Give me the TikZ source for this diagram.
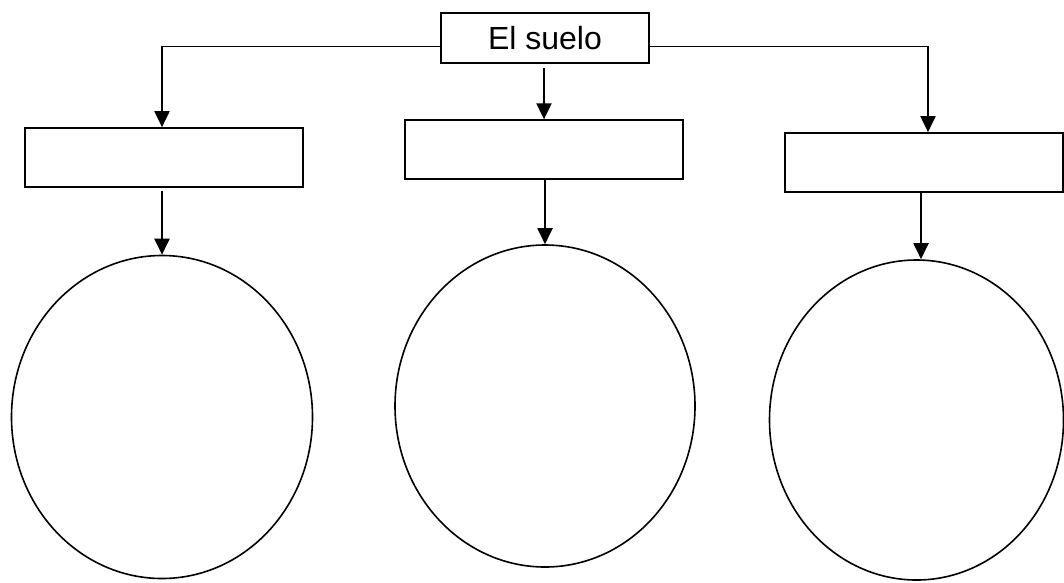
\documentclass[tikz,border=0pt]{standalone}
\usepackage{fontspec}
\setmainfont{Liberation Sans}
\usetikzlibrary{arrows.meta,shapes.geometric}

\begin{document}
\begin{tikzpicture}[x=1pt, y=-1pt,
        topbox/.style={draw, line width=1.7pt, minimum width=208pt, minimum height=50pt, inner sep=0pt, font=\fontsize{32}{38}\selectfont},
        emptybox/.style={draw, line width=1.7pt, minimum width=278pt, minimum height=59pt, inner sep=0pt},
        bubble/.style={draw, ellipse, line width=1.6pt, inner sep=0pt},
        link/.style={line width=2pt, -{Triangle[length=16pt, width=15pt]}}]
    % Page frame
    \useasboundingbox (0, 0) rectangle (1064, 582);

    % Topic box
    \node[topbox] (suelo) at (545, 37.7) {El suelo};

    % Empty boxes of the second row
    \node[emptybox] (left) at (164, 157.5) {};
    \node[emptybox] (mid) at (544, 149.7) {};
    \node[emptybox] (right) at (924, 162.5) {};

    % Empty circles at the bottom
    \node[bubble, minimum width=301pt, minimum height=323pt] (leftc) at (162, 417) {};
    \node[bubble, minimum width=300pt, minimum height=322pt] (midc) at (545, 406) {};
    \node[bubble, minimum width=294pt, minimum height=320pt] (rightc) at (916.5, 420) {};

    % Branches from the topic
    \coordinate (lturn) at (162, 46.7);
    \coordinate (rturn) at (928, 46.7);
    \draw[line width=1.2pt] (suelo.west |- lturn) -- (lturn);
    \draw[line width=1.2pt] (suelo.east |- rturn) -- (rturn);
    \draw[link] ([yshift=0.6pt]lturn) -- (lturn |- left.north);
    \draw[link] ([yshift=0.6pt]rturn) -- (rturn |- right.north);
    \draw[link] ([yshift=-4pt]suelo.south -| mid.north) -- (mid.north);

    % From boxes to circles
    \draw[link] ([yshift=-3pt]left.south -| leftc.north) -- (leftc.north);
    \draw[link] (mid.south -| midc.north) -- (midc.north);
    \draw[link] ([xshift=-3pt]right.south) -- ([xshift=-3pt]right.south |- rightc.north);
\end{tikzpicture}
\end{document}
